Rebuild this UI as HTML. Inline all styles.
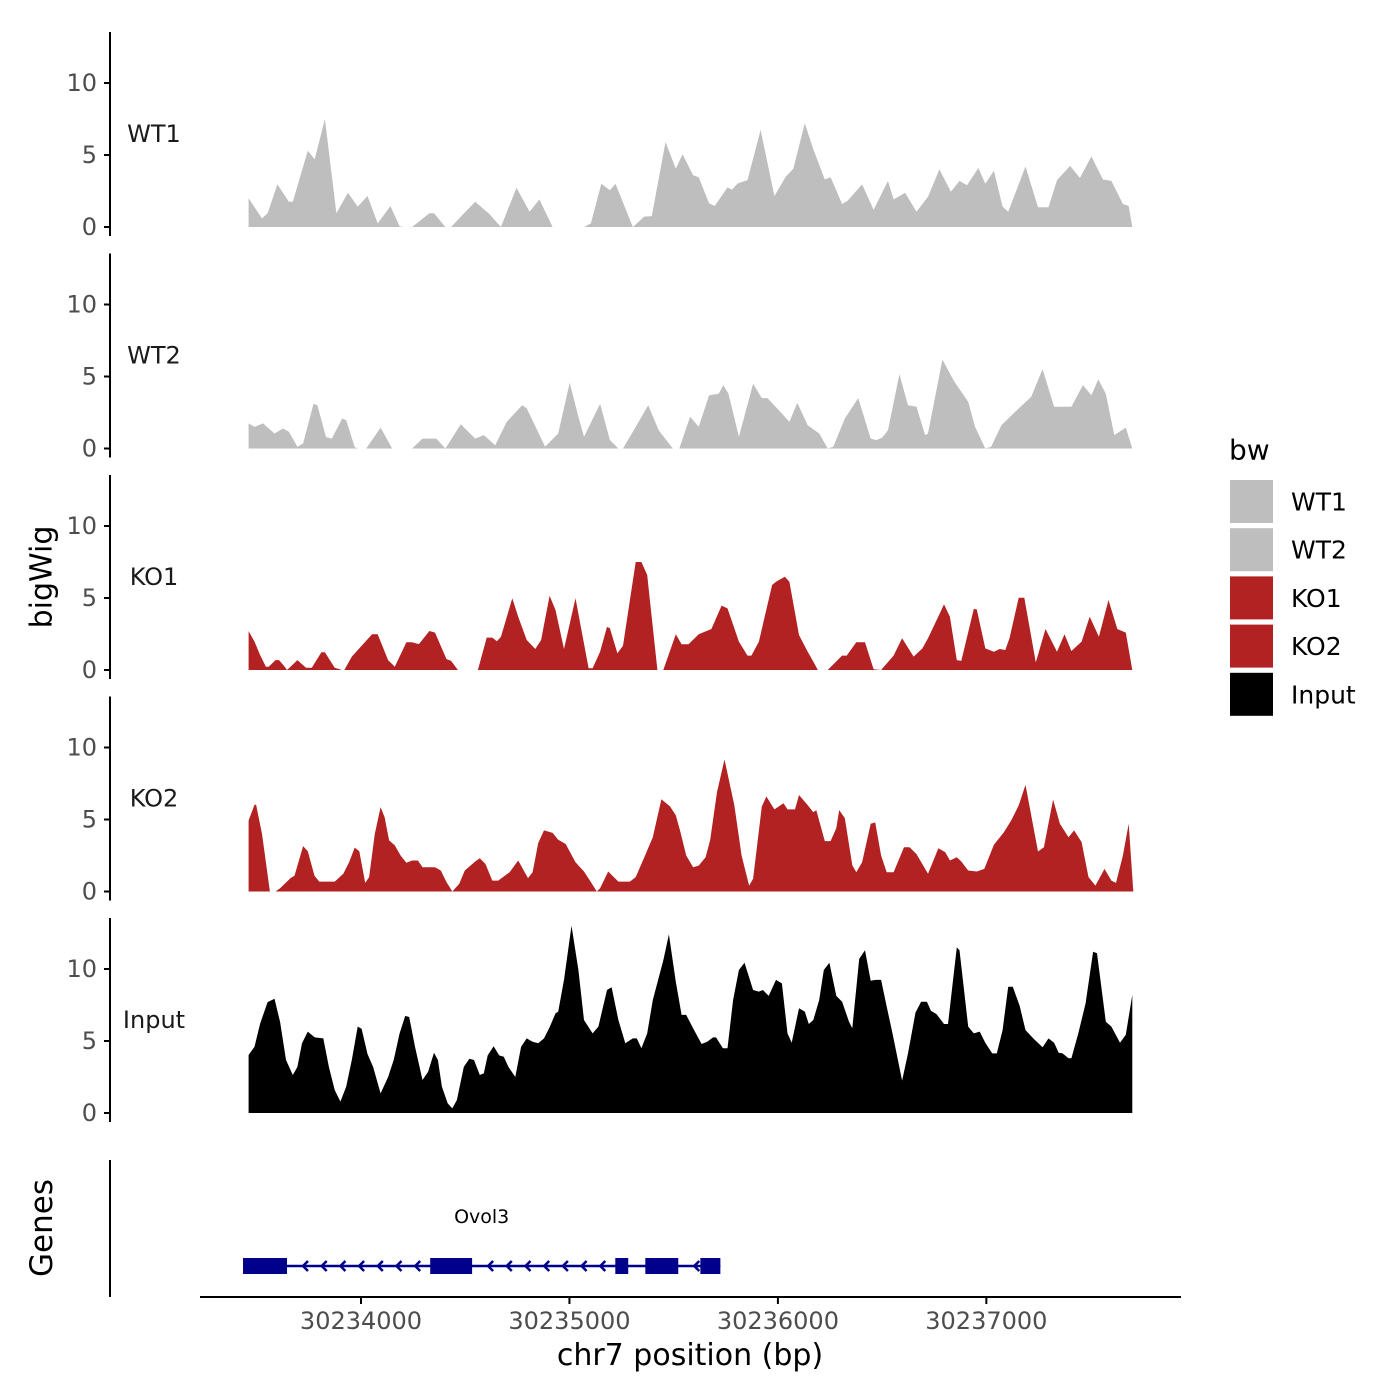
<!DOCTYPE html>
<html><head><meta charset="utf-8"><style>
body{margin:0;background:#fff;}
svg{display:block;font-family:"DejaVu Sans","Liberation Sans",sans-serif;}
</style></head><body>
<svg id="chart" width="1400" height="1400" viewBox="0 0 1400 1400">
<g id="tracks"></g>
<g id="genes"></g>
<g id="xaxis"></g>
<text x="42" y="577" transform="rotate(-90 42 577)" text-anchor="middle" dominant-baseline="central" font-size="30" fill="#000">bigWig</text>
<text x="42" y="1228" transform="rotate(-90 42 1228)" text-anchor="middle" dominant-baseline="central" font-size="31" fill="#000">Genes</text>
<text x="690" y="1365" text-anchor="middle" font-size="30" fill="#000">chr7 position (bp)</text>
<g id="legend"></g>
</svg>
<script>
// genomic offsets are bp relative to 30233000
const trackNames = ["WT1","WT2","KO1","KO2","Input"];
const trackColors = ["#BEBEBE","#BEBEBE","#B22222","#B22222","#000000"];
const yTicks = [0,5,10];
const xTicks = [30234000,30235000,30236000,30237000];

const wt1Pos = [461,525,552,599,654,673,745,778,827,882,937,984,1031,1080,1141,1185,1204,1245,1328,1350,1405,1432,1479,1548,1616,1671,1746,1809,1856,1919,2070,2103,2153,2194,2221,2304,2359,2395,2461,2510,2543,2593,2620,2670,2697,2758,2780,2807,2854,2917,2983,3038,3074,3129,3170,3225,3253,3308,3335,3404,3459,3528,3555,3610,3665,3720,3775,3830,3871,3907,3962,3995,4036,4078,4105,4188,4248,4298,4339,4402,4449,4504,4559,4600,4655,4683,4700];
const wt1Val = [1.99,0.6,0.95,2.96,1.76,1.76,5.3,4.7,7.5,0.95,2.38,1.42,2.15,0.25,1.45,0.05,0,0,0.95,0.95,0,0,0.72,1.76,0.9,0,2.73,1.06,1.92,0,0,0.25,3.0,2.55,3.0,0,0.72,0.76,5.9,4.05,5.05,3.6,3.45,1.64,1.46,2.75,2.6,3.03,3.26,6.74,2.15,3.5,4.05,7.2,5.4,3.3,3.45,1.6,1.83,2.96,1.2,3.2,1.92,2.38,1.06,2.1,4.0,2.45,3.2,2.9,4.1,3.0,3.9,1.42,1.06,4.2,1.37,1.37,3.26,4.24,3.4,4.9,3.3,3.2,1.6,1.46,0];

const wt2Pos = [461,489,530,585,626,654,695,722,772,791,832,860,910,929,970,984,1025,1094,1149,1245,1295,1361,1405,1479,1548,1589,1644,1699,1773,1795,1883,1946,2001,2043,2070,2147,2194,2235,2257,2318,2378,2428,2496,2527,2579,2620,2670,2716,2738,2763,2813,2881,2923,2950,3005,3055,3093,3143,3198,3239,3266,3321,3385,3445,3473,3500,3528,3583,3624,3665,3706,3720,3789,3844,3913,3946,3995,4023,4072,4146,4215,4270,4325,4408,4463,4504,4537,4573,4614,4669,4700];
const wt2Val = [1.74,1.5,1.74,1.04,1.39,1.16,0.12,0.35,3.1,3.0,0.8,0.69,2.08,1.97,0.1,0,0,1.45,0,0,0.69,0.69,0,1.69,0.69,0.93,0.23,1.85,3.0,2.8,0.12,1.04,4.57,2.2,0.81,3.1,0.58,0,0,1.5,3.0,1.27,0,0,2.2,1.5,3.7,3.8,4.4,3.8,0.81,4.5,3.5,3.5,2.66,1.85,3.17,1.62,1.04,0,0.12,2.08,3.5,0.69,0.58,0.76,1.27,5.16,3.0,2.9,0.93,1.04,6.18,4.7,3.24,1.5,0,0.12,1.62,2.66,3.6,5.5,2.9,2.9,4.4,3.7,4.8,3.8,0.93,1.45,0];

const ko1Pos = [461,489,516,544,557,590,607,634,645,654,695,736,764,810,827,874,909,920,956,1053,1080,1130,1162,1218,1245,1278,1328,1355,1410,1432,1465,1561,1603,1630,1652,1671,1726,1754,1795,1836,1864,1905,1933,1974,2029,2092,2111,2147,2180,2194,2230,2257,2318,2345,2373,2422,2450,2510,2538,2571,2620,2681,2730,2758,2813,2854,2873,2909,2972,2991,3033,3055,3101,3143,3170,3192,3239,3308,3330,3376,3418,3459,3495,3555,3596,3651,3693,3720,3775,3797,3825,3858,3880,3940,3954,3995,4036,4064,4091,4111,4155,4182,4237,4284,4339,4375,4408,4457,4496,4540,4586,4628,4669,4700];
const ko1Val = [2.7,1.97,1.04,0.23,0.23,0.69,0.69,0.23,0,0.12,0.69,0.16,0.16,1.23,1.23,0.16,0,0,0.93,2.48,2.48,0.69,0.23,1.93,1.93,1.8,2.71,2.6,0.76,0.63,0,0,2.25,2.25,2.0,2.3,4.98,3.7,2.08,1.46,2.08,5.16,4.17,1.46,4.98,0.12,0.12,1.27,2.99,2.9,1.16,1.69,7.5,7.5,6.6,0,0,2.48,1.79,1.79,2.48,2.85,4.47,4.28,1.97,1.0,1.0,1.97,5.9,6.13,6.48,6.13,2.43,1.27,0.58,0,0,1.0,1.0,1.93,1.93,0.05,0,1.0,2.2,0.93,1.5,2.2,3.87,4.56,3.7,0.69,0.63,4.24,4.2,1.5,1.27,1.46,1.39,2.2,5.02,5.02,0.53,2.85,1.27,2.48,1.32,1.97,3.7,2.31,4.86,2.85,2.6,0];

const ko2Pos = [461,489,497,525,563,590,612,662,681,722,745,777,800,874,915,943,970,992,1020,1039,1066,1094,1113,1135,1162,1190,1218,1245,1273,1295,1355,1383,1410,1438,1471,1498,1548,1570,1597,1630,1658,1713,1754,1801,1823,1850,1878,1919,1946,1982,2029,2070,2103,2131,2147,2186,2235,2290,2318,2359,2400,2441,2483,2510,2532,2560,2593,2620,2653,2675,2708,2744,2791,2826,2862,2881,2923,2945,2983,3027,3046,3082,3101,3143,3170,3184,3225,3253,3280,3294,3321,3357,3376,3404,3445,3467,3495,3522,3555,3605,3632,3665,3720,3770,3803,3825,3858,3880,3913,3954,3990,4036,4083,4119,4155,4188,4248,4276,4320,4353,4394,4421,4457,4490,4523,4567,4600,4622,4655,4683,4705];
const ko2Val = [4.93,6.02,6.02,4.0,0,0,0.23,0.93,1.1,3.15,2.8,1.1,0.69,0.69,1.23,2.03,3.05,2.8,0.6,1.0,4.0,5.86,5.16,3.55,3.2,2.5,1.99,2.15,2.15,1.69,1.69,1.46,0.65,0,0.53,1.46,2.08,2.31,1.92,0.76,0.76,1.34,2.15,0.93,1.34,3.36,4.24,4.07,3.6,3.3,2.03,1.39,0.65,0,0.23,1.39,0.69,0.69,1.0,2.38,3.77,6.4,5.9,5.3,4.17,2.5,1.69,1.8,2.38,3.6,6.9,9.17,6.0,2.5,0.41,0.88,5.9,6.6,5.7,6.13,5.7,5.7,6.7,6.0,5.5,5.65,3.5,3.5,4.4,5.65,5.1,1.82,1.34,2.03,4.7,4.8,2.5,1.34,1.34,3.07,3.07,2.6,1.23,3.0,2.73,2.15,2.38,2.08,1.46,1.39,1.57,3.24,4.1,4.93,5.98,7.4,2.78,3.07,6.39,4.7,3.77,4.24,3.43,1.0,0.41,1.57,0.76,0.6,2.5,4.7,0];

const inputPos = [461,489,516,552,585,612,640,673,695,717,745,778,819,846,874,901,929,956,984,1003,1031,1058,1094,1130,1157,1185,1212,1231,1259,1295,1322,1350,1369,1388,1416,1438,1460,1493,1520,1542,1570,1589,1608,1636,1663,1685,1707,1740,1768,1795,1823,1850,1878,1905,1933,1946,1974,2010,2043,2070,2111,2139,2180,2202,2235,2268,2304,2323,2345,2373,2400,2450,2477,2510,2538,2560,2593,2634,2661,2689,2703,2736,2758,2785,2813,2840,2881,2909,2928,2956,2991,3019,3046,3066,3101,3129,3148,3170,3198,3220,3247,3280,3308,3341,3357,3390,3418,3445,3467,3495,3522,3550,3596,3624,3660,3687,3715,3734,3761,3797,3816,3858,3871,3913,3940,3968,3995,4028,4050,4078,4105,4127,4160,4188,4229,4270,4298,4325,4347,4366,4394,4408,4441,4476,4512,4531,4573,4600,4641,4669,4700];
const inputVal = [4.03,4.6,6.2,7.7,7.94,6.32,3.68,2.64,3.2,4.84,5.65,5.25,5.18,3.2,1.6,0.79,1.83,3.68,6.0,5.85,4.1,3.2,1.36,2.5,3.68,5.53,6.74,6.67,4.6,2.29,2.87,4.19,3.68,1.83,0.67,0.32,0.9,3.2,3.77,3.68,2.64,2.75,4.0,4.63,4.0,3.9,3.2,2.5,4.6,5.18,4.95,4.84,5.18,5.95,6.92,7.04,9.24,13.0,9.93,6.46,5.53,6.0,8.54,8.73,6.46,4.84,5.18,5.18,4.49,5.53,7.85,10.6,12.4,9.12,6.81,6.81,5.88,4.79,4.95,5.25,5.25,4.49,4.49,7.85,9.93,10.44,8.54,8.43,8.54,8.13,9.24,9.0,5.53,4.88,7.27,7.04,6.18,6.46,7.85,9.93,10.44,8.13,7.73,6.34,5.88,10.7,11.3,9.19,9.24,9.24,7.39,5.53,2.25,4.14,6.97,7.73,7.73,7.1,6.87,6.18,6.18,11.5,11.3,6.0,5.53,5.65,4.88,4.14,4.14,5.76,8.77,8.77,7.43,5.76,5.12,4.56,5.18,4.88,4.19,4.14,3.8,3.8,5.53,7.62,11.2,11.1,6.34,6.0,4.88,5.44,8.2];

const exonStarts = [434,1332,2220,2364,2628];
const exonEnds = [645,1533,2282,2522,2724];
const geneName = "Ovol3";
const geneStart = 434, geneEnd = 2724;

const trackPos = [wt1Pos,wt2Pos,ko1Pos,ko2Pos,inputPos];
const trackVal = [wt1Val,wt2Val,ko1Val,ko2Val,inputVal];

const NS = "http://www.w3.org/2000/svg";
function mk(tag, attrs, parent){const e=document.createElementNS(NS,tag);for(const k in attrs)e.setAttribute(k,attrs[k]);parent.appendChild(e);return e;}
function xScale(off){return 361 + (off-1000)*0.20845;}
const baselines = [227,448.5,670,891.5,1113];
const pxPerUnit = 14.4;
function yScale(i,v){return baselines[i]-v*pxPerUnit;}

const tracksG = document.getElementById('tracks');
trackNames.forEach((name,i)=>{
  const g = mk('g',{},tracksG);
  
  
  const b = baselines[i];
  const axis = mk('line',{x1:110,x2:110,y1:b-195,y2:b+9,stroke:'#000','stroke-width':2},g);
  
  
  yTicks.forEach(t=>{
    const y=yScale(i,t);
    const tk = mk('line',{x1:104,x2:110,y1:y,y2:y,stroke:'#000','stroke-width':2},g);
    
    
    const tl = mk('text',{x:97,y:y,'text-anchor':'end','dominant-baseline':'central','font-size':24,fill:'#4d4d4d'},g);
    tl.textContent = t;
    
    
  });
  const lab = mk('text',{x:154,y:b-93,'text-anchor':'middle','dominant-baseline':'central','font-size':24,fill:'#1a1a1a'},g);
  lab.textContent = name;
  
  
  const P = trackPos[i], V = trackVal[i];
  let d = 'M'+xScale(P[0]).toFixed(1)+','+b;
  for(let k=0;k<P.length;k++) d += ' L'+xScale(P[k]).toFixed(1)+','+yScale(i,V[k]).toFixed(1);
  d += ' L'+xScale(P[P.length-1]).toFixed(1)+','+b+' Z';
  const area = mk('path',{d:d,fill:trackColors[i]},g);
  
  
});

// genes
const gG = document.getElementById('genes');
const gAxis = mk('line',{x1:110,x2:110,y1:1160,y2:1297,stroke:'#000','stroke-width':2},gG);


const gy = 1266;
const intron = mk('line',{x1:xScale(geneStart),x2:xScale(geneEnd),y1:gy,y2:gy,stroke:'#00008B','stroke-width':2.5},gG);


for(let k=0;k<exonStarts.length;k++){
  const r = mk('rect',{x:xScale(exonStarts[k]),y:gy-8,width:xScale(exonEnds[k])-xScale(exonStarts[k]),height:16,fill:'#00008B'},gG);
  
  
  if(k<exonStarts.length-1){
    const a0 = xScale(exonEnds[k]), a1 = xScale(exonStarts[k+1]);
    for(let ax=a0+16; ax<a1-2; ax+=18.7){
      const ch = mk('path',{d:'M'+(ax+5)+','+(gy-5)+' L'+ax+','+gy+' L'+(ax+5)+','+(gy+5),fill:'none',stroke:'#00008B','stroke-width':2.5},gG);
      
      
    }
  }
}
const gl = mk('text',{x:(xScale(geneStart)+xScale(geneEnd))/2,y:1217,'text-anchor':'middle','dominant-baseline':'central','font-size':19,fill:'#000'},gG);
gl.textContent = geneName;



// x axis
const xG = document.getElementById('xaxis');
const xl = mk('line',{x1:200,x2:1181,y1:1297,y2:1297,stroke:'#000','stroke-width':2},xG);


xTicks.forEach(t=>{
  const x = xScale(t-30233000);
  const tk = mk('line',{x1:x,x2:x,y1:1297,y2:1304,stroke:'#000','stroke-width':2},xG);
  
  
  const tl = mk('text',{x:x,y:1321,'text-anchor':'middle','dominant-baseline':'central','font-size':24,fill:'#4d4d4d'},xG);
  tl.textContent = t;
  
  
});

// legend
const lG = document.getElementById('legend');
const lt = mk('text',{x:1229,y:450,'dominant-baseline':'central','font-size':28,fill:'#000'},lG);
lt.textContent = 'bw';


trackNames.forEach((name,i)=>{
  const y = 480 + i*48.2;
  const r = mk('rect',{x:1230,y:y,width:43,height:43,fill:trackColors[i]},lG);
  
  
  const t = mk('text',{x:1291,y:y+22,'dominant-baseline':'central','font-size':25,fill:'#000'},lG);
  t.textContent = name;
  
  
});
</script>
</body></html>
